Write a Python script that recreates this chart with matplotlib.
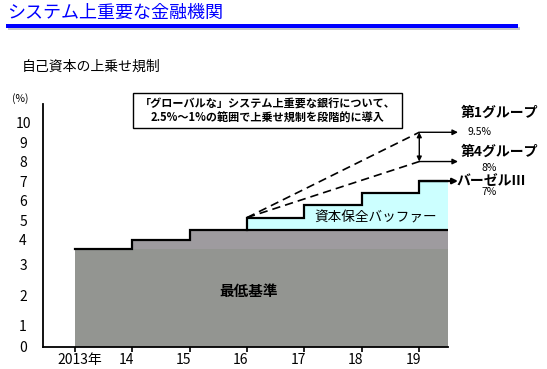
import numpy as np
import matplotlib
matplotlib.use("Agg")
import matplotlib.pyplot as plt
from matplotlib.patches import Rectangle
from matplotlib.transforms import ScaledTranslation

plt.rcParams['font.family'] = ['Noto Sans CJK JP', 'DejaVu Sans']

# ---------------- data ----------------
title = "システム上重要な金融機関"
subtitle = "自己資本の上乗せ規制"
years = [2013, 2014, 2015, 2016, 2017, 2018, 2019]
year_labels = ["2013年", "14", "15", "16", "17", "18", "19"]
min_standard = [3.5, 4.0, 4.5, 4.5, 4.5, 4.5, 4.5]
conservation_buffer = [0.0, 0.0, 0.0, 0.625, 1.25, 1.875, 2.5]
gsib_group1 = 9.5
gsib_group4 = 8.0
basel3 = 7.0
y_tick_values = list(range(0, 11))
y_tick_labels = [str(v) for v in y_tick_values]
y_mark_values = [1, 2, 4, 5, 7, 8, 10]
level_names = ["第1グループ", "第4グループ", "バーゼルⅢ"]
level_texts = ["9.5%", "8%", "7%"]
area_labels = ["最低基準", "資本保全バッファー"]
note = "「グローバルな」システム上重要な銀行について、\n2.5%～1%の範囲で上乗せ規制を段階的に導入"

# ---------------- layout ----------------
W, H = 547, 369
fig = plt.figure(figsize=(W / 100, H / 100), dpi=100)
fx = lambda px: px / W
fy = lambda py: 1 - py / H

ax_l, ax_r, ax_t, ax_b = 42.5, 448, 104, 347
ax = fig.add_axes([fx(ax_l), fy(ax_b), (ax_r - ax_l) / W, (ax_b - ax_t) / H])

# schematic (piecewise-linear) vertical scale, as in the original drawing
P = np.array([0.0, 1.0, 2.0, 3.5, 20.0])
Q = np.array([0.0, 21.0, 51.3, 97.7, 97.7 + 16.5 * 19.5])


def fwd(v):
    v = np.asarray(v, dtype=float)
    out = np.interp(v, P, Q)
    lo = v < P[0]
    hi = v > P[-1]
    out = np.where(lo, Q[0] + (v - P[0]) * (Q[1] - Q[0]) / (P[1] - P[0]), out)
    out = np.where(hi, Q[-1] + (v - P[-1]) * 19.5, out)
    return out


def inv(u):
    u = np.asarray(u, dtype=float)
    out = np.interp(u, Q, P)
    lo = u < Q[0]
    hi = u > Q[-1]
    out = np.where(lo, P[0] + (u - Q[0]) * (P[1] - P[0]) / (Q[1] - Q[0]), out)
    out = np.where(hi, P[-1] + (u - Q[-1]) / 19.5, out)
    return out


ax.set_yscale('function', functions=(fwd, inv))
x_left, x_right = 2012.44, 2019.5
ax.set_xlim(x_left, x_right)
ax.set_ylim(0, 10.95)

# ---------------- areas ----------------
n = len(years)
xe = years + [x_right]
mins = np.array(min_standard + [min_standard[-1]])
buf = np.array(conservation_buffer + [conservation_buffer[-1]])
total = mins + buf
base = min(min_standard)
i0 = next(i for i, b in enumerate(conservation_buffer) if b > 0)

ax.fill_between(xe, 0, np.minimum(mins, base), step='post', color='#939591', lw=0)
ax.fill_between(xe, base, mins, where=mins > base, step='post', color='#9e9b9f', lw=0)
ax.fill_between(xe[i0:], mins[i0:], total[i0:], step='post', color='#ccffff', lw=0)

ax.plot(xe, mins, drawstyle='steps-post', color='black', lw=1.6, solid_joinstyle='miter')
ax.plot([years[i0]] + xe[i0:], [mins[i0]] + list(total[i0:]), drawstyle='steps-post',
        color='black', lw=1.6, solid_joinstyle='miter')

# dashed G-SIB paths
for lvl in (gsib_group1, gsib_group4):
    ax.plot([years[i0], years[-1]], [total[i0], lvl], color='black', lw=1.2,
            ls=(0, (5, 3)))

# arrows to the right
ytr = ax.get_yaxis_transform()
tip = (458 - ax_l) / (ax_r - ax_l)
for lvl, lw in ((gsib_group1, 1.0), (gsib_group4, 1.0), (basel3, 1.6)):
    ax.annotate('', xy=(tip, lvl), xycoords=ytr, xytext=(years[-1], lvl), textcoords='data',
                arrowprops=dict(arrowstyle='-|>', color='black', lw=lw, shrinkA=0, shrinkB=0,
                                mutation_scale=8), annotation_clip=False)
ax.annotate('', xy=(years[-1], gsib_group1), xytext=(years[-1], gsib_group4),
            arrowprops=dict(arrowstyle='<|-|>', color='black', lw=1.0, shrinkA=0, shrinkB=0,
                            mutation_scale=7), annotation_clip=False)

# right-hand labels
levels = [gsib_group1, gsib_group4, basel3]
name_off = [(13, 20), (13, 10), (9, 0)]
val_off = [(32, 0), (41, -6), (41, -11)]
for lvl, name, txt, no, vo in zip(levels, level_names, level_texts, name_off, val_off):
    ax.annotate(name, xy=(1, lvl), xycoords=ytr, xytext=no, textcoords='offset pixels',
                ha='left', va='center', fontsize=10, fontweight='bold', annotation_clip=False)
    ax.annotate(txt, xy=(1, lvl), xycoords=ytr, xytext=vo, textcoords='offset pixels',
                ha='center', va='center', fontsize=7.5, annotation_clip=False)

# area labels
ax.text((249 - ax_l) / (ax_r - ax_l), (ax_b - 291) / (ax_b - ax_t), area_labels[0],
        transform=ax.transAxes, ha='center', va='center', fontsize=10.5, fontweight='bold')
ax.text((376 - ax_l) / (ax_r - ax_l), (ax_b - 218) / (ax_b - ax_t), area_labels[1],
        transform=ax.transAxes, ha='center', va='center', fontsize=9.8)

# ---------------- axes styling ----------------
for s in ('top', 'right'):
    ax.spines[s].set_visible(False)
for s in ('left', 'bottom'):
    ax.spines[s].set_linewidth(1.3)
    ax.spines[s].set_color('black')

ax.set_yticks(y_tick_values, y_tick_labels)
ax.set_yticks(y_mark_values, minor=True)
ax.tick_params(axis='y', which='major', length=0, pad=14, labelsize=10)
ax.tick_params(axis='y', which='minor', direction='in', length=8.6, width=1.2)
for lab in ax.get_yticklabels():
    lab.set_horizontalalignment('center')

ax.set_xticks(years, year_labels)
ax.tick_params(axis='x', which='major', direction='out', length=3.6, width=1.2,
               labelsize=10, pad=1)
for i, lab in enumerate(ax.get_xticklabels()):
    dx = 5.3 if i == 0 else -6
    lab.set_transform(lab.get_transform() + ScaledTranslation(dx / 100, 0, fig.dpi_scale_trans))

# ---------------- header ----------------
fig.text(fx(7), fy(12.5), title, color='#0000ff', fontsize=13, ha='left', va='center')
fig.patches.append(Rectangle((fx(8), fy(30)), 512 / W, 3 / H, transform=fig.transFigure,
                             color='#c8c8c8', lw=0))
fig.patches.append(Rectangle((fx(6), fy(27.7)), 512 / W, 3.7 / H, transform=fig.transFigure,
                             color='#0000ff', lw=0))
fig.text(fx(22), fy(66.7), subtitle, fontsize=10, ha='left', va='center')
fig.text(fx(20), fy(98.5), "(%)", fontsize=7.5, ha='center', va='center')

# note box
fig.patches.append(Rectangle((fx(133.3), fy(128.3)), (401.7 - 133.3) / W, 35 / H,
                             transform=fig.transFigure, facecolor='white', edgecolor='black',
                             lw=1.0, zorder=5))
fig.text(fx(267.5), fy(111), note, ha='center', va='center', fontsize=8, fontweight='bold',
         linespacing=1.1, zorder=6)

fig.savefig("out.png", dpi=100)
